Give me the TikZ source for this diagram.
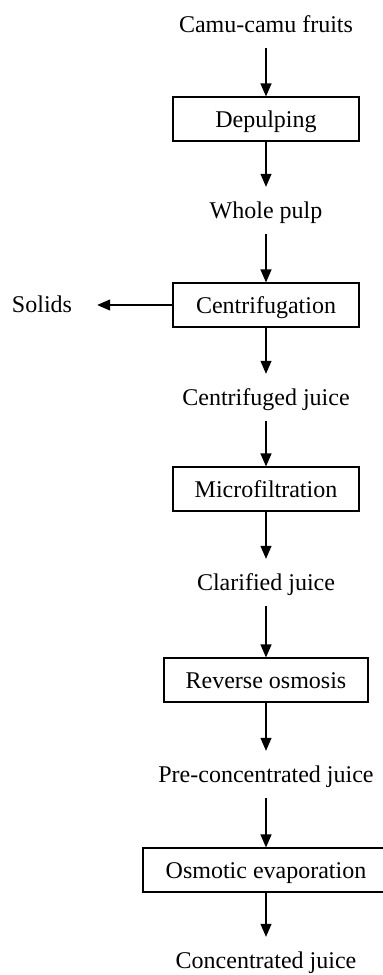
\documentclass[tikz,border=0pt]{standalone}
\usepackage{fontspec}
\setmainfont{Liberation Serif}
\usetikzlibrary{arrows.meta,calc}
\begin{document}
\begin{tikzpicture}[x=1pt,y=-1pt,
  lbl/.style={inner sep=0pt,text height=16pt,text depth=0pt,anchor=base,font=\fontsize{24}{28}\selectfont},
  stepbox/.style={draw,line width=1.2pt,inner sep=0pt,minimum height=44pt,text height=16pt,text depth=0pt,font=\fontsize{24}{28}\selectfont},
  arr/.style={line width=1.2pt,-{Triangle[length=13pt,width=11pt]}},
  fromlbl/.style={shorten <=16pt},
  tolbl/.style={shorten >=15pt}]
\useasboundingbox (0,0) rectangle (383,975);
\node[lbl] (camu) at (266,32) {Camu-camu fruits};
\node[stepbox,minimum width=186pt] (dep) at (266,119) {Depulping};
\node[lbl] (whole) at (266,218) {Whole pulp};
\node[stepbox,minimum width=186pt] (cent) at (266,305) {Centrifugation};
\node[lbl] (solids) at (42,312) {Solids};
\node[lbl] (cjuice) at (266,405) {Centrifuged juice};
\node[stepbox,minimum width=186pt] (micro) at (266,489) {Microfiltration};
\node[lbl] (clar) at (266,590) {Clarified juice};
\node[stepbox,minimum width=204pt] (rev) at (266,680) {Reverse osmosis};
\node[lbl] (pre) at (266,782) {Pre-concentrated juice};
\node[stepbox,minimum width=254pt] (osm) at (270,870) {Osmotic evaporation\hspace*{8pt}};
\node[lbl] (conc) at (266,968) {Concentrated juice};
\draw[arr,fromlbl] (camu.south) -- (dep.north);
\draw[arr,tolbl] (dep.south) -- (whole.north);
\draw[arr,fromlbl] (whole.south) -- (cent.north);
\draw[arr,shorten >=25pt] (cent.west) -- (cent.west -| solids.east);
\draw[arr,tolbl] (cent.south) -- (cjuice.north);
\draw[arr,fromlbl] (cjuice.south) -- (micro.north);
\draw[arr,tolbl] (micro.south) -- (clar.north);
\draw[arr,fromlbl] (clar.south) -- (rev.north);
\draw[arr,tolbl] (rev.south) -- (pre.north);
\draw[arr,fromlbl] (pre.south) -- (osm.north -| pre.south);
\draw[arr,tolbl] (osm.south -| conc.north) -- (conc.north);
\end{tikzpicture}
\end{document}
